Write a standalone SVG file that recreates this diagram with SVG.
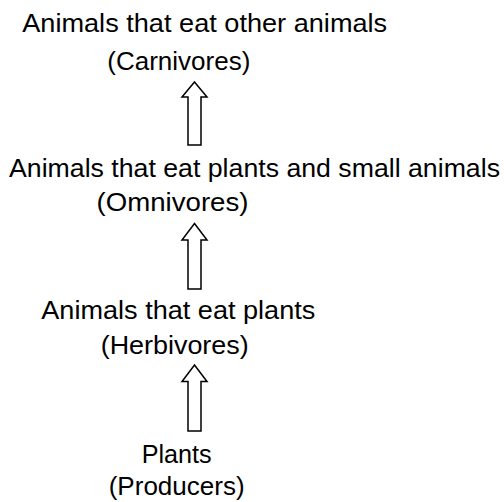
<svg xmlns="http://www.w3.org/2000/svg" width="504" height="502" viewBox="0 0 504 502">
<style>
text { font-family: "Liberation Sans", Arial, sans-serif; font-size: 26px; fill: #000; text-anchor: middle; }
.arrow { fill: #fff; stroke: #000; stroke-width: 1.5; stroke-linejoin: miter; }
</style>
<rect width="504" height="502" fill="#fff"/>
<g id="carnivores">
<text x="204.7" y="32" textLength="365" lengthAdjust="spacingAndGlyphs">Animals that eat other animals</text>
<text x="178.8" y="70" textLength="143" lengthAdjust="spacingAndGlyphs">(Carnivores)</text>
</g>
<g id="omnivores">
<text x="254.5" y="177" textLength="491" lengthAdjust="spacingAndGlyphs">Animals that eat plants and small animals</text>
<text x="172.5" y="211" textLength="152" lengthAdjust="spacingAndGlyphs">(Omnivores)</text>
</g>
<g id="herbivores">
<text x="178.3" y="318.5" textLength="274" lengthAdjust="spacingAndGlyphs">Animals that eat plants</text>
<text x="174.7" y="354" textLength="148" lengthAdjust="spacingAndGlyphs">(Herbivores)</text>
</g>
<g id="producers">
<text x="176.7" y="462.5" textLength="70" lengthAdjust="spacingAndGlyphs">Plants</text>
<text x="176.7" y="495" textLength="136" lengthAdjust="spacingAndGlyphs">(Producers)</text>
</g>
<g id="connectors">
<path class="arrow" d="M194.5,82 L207,97 L201,97 L201,145 L188,145 L188,97 L182,97 Z"/>
<path class="arrow" d="M194.5,223.5 L207,240 L201,240 L201,289 L188,289 L188,240 L182,240 Z"/>
<path class="arrow" d="M194.5,365 L207,381.5 L201,381.5 L201,431 L188,431 L188,381.5 L182,381.5 Z"/>
</g>
</svg>
